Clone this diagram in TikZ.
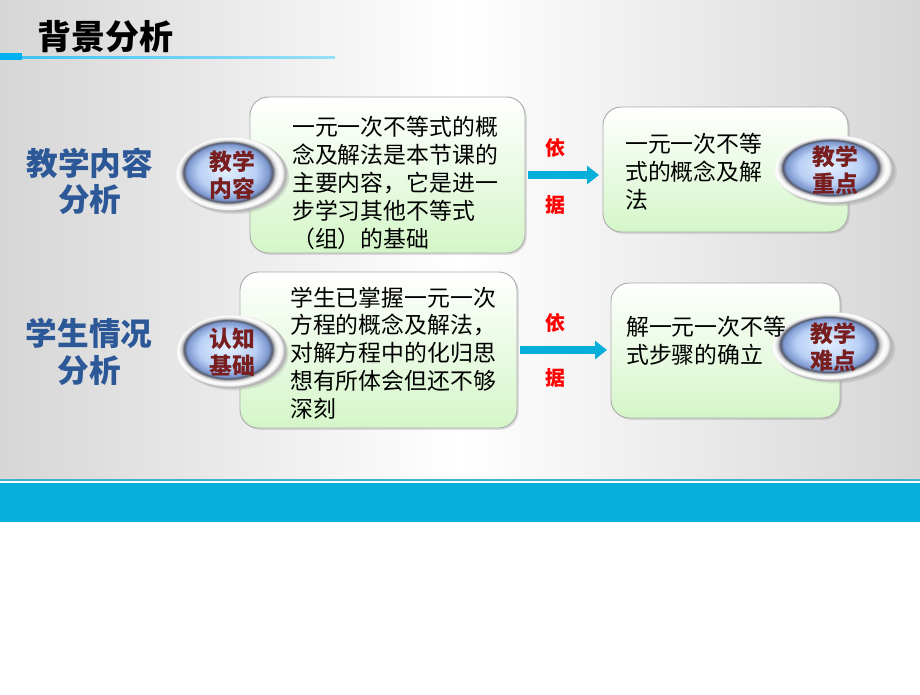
\documentclass[tikz,border=0pt]{standalone}
\usepackage{fontspec}
\setmainfont{Noto Sans CJK SC}
\usetikzlibrary{shapes.geometric,arrows.meta,shadows}

\definecolor{bggray}{RGB}{214,214,214}
\definecolor{bandblue}{RGB}{5,175,218}
\definecolor{bandline}{RGB}{60,180,205}
\definecolor{titleblue}{RGB}{0,176,240}
\definecolor{labelblue}{RGB}{44,88,152}
\definecolor{boxgreen}{RGB}{212,246,200}
\definecolor{badgetext}{RGB}{120,30,30}
\definecolor{badgehi}{RGB}{228,240,255}
\definecolor{badgemid}{RGB}{185,208,245}
\definecolor{badgelo}{RGB}{125,152,208}
\definecolor{badgerim}{RGB}{85,90,108}

% the path's bounding box is the 50bp square in the middle of the shading
\pgfdeclareradialshading{badgeshade}{\pgfpoint{-3bp}{3bp}}{%
  color(0bp)=(badgehi); color(13bp)=(badgemid); color(18.5bp)=(badgelo);
  color(20bp)=(badgerim); color(21.3bp)=(gray!35); color(22.8bp)=(white);
  color(24.4bp)=(gray!12); color(25bp)=(gray!55); color(50bp)=(gray!55)}

\tikzset{
  board/.style={draw=gray!65, line width=0.8pt, rounded corners=0.55cm,
    top color=white, bottom color=boxgreen,
    drop shadow={opacity=0.25, shadow xshift=1.5pt, shadow yshift=-1.5pt}},
  badge/.style={ellipse, shade, shading=badgeshade, inner sep=0pt,
    align=center, text=badgetext, font=\bfseries\fontsize{19.5}{23}\selectfont,
    drop shadow={opacity=0.2, shadow xshift=1.5pt, shadow yshift=-1.5pt}},
  boxtext/.style={anchor=west, inner sep=0pt, align=left,
    font=\fontsize{19.5}{23.8}\selectfont},
  sidelabel/.style={align=center, text=labelblue,
    font=\bfseries\fontsize{27}{31}\selectfont},
  basis/.style={text=red, font=\bfseries\fontsize{17}{17}\selectfont},
  flow/.style={bandblue, line width=0.24cm,
    -{Triangle[length=0.36cm,width=0.54cm]}, shorten <=2pt, shorten >=3pt}
}

\begin{document}
\begin{tikzpicture}[x=0.03cm,y=-0.03cm]
    \useasboundingbox (0,0) rectangle (920,694);

    % slide background and bottom band
    \fill[white] (0,0) rectangle (920,694);
    \shade[left color=bggray, right color=bggray, middle color=white]
        (0,0) rectangle (920,478);
    \fill[bandline] (0,478.5) rectangle (920,480.5);
    \fill[bandblue] (0,483) rectangle (920,522);

    % title
    \node[anchor=west, font=\bfseries\fontsize{29}{30}\selectfont] (title)
        at (33,37) {背景分析};
    \fill[titleblue] (0,53) rectangle (22,60);
    \shade[left color=titleblue!75, right color=titleblue!40]
        (22,56) rectangle (335,58.5);

    % left column
    \node[sidelabel] (row1) at (90,181) {教学内容\\分析};
    \node[sidelabel] (row2) at (89,352) {学生情况\\分析};

    % boxes
    \node[board, minimum width=8.25cm, minimum height=4.68cm] (box1) at (387.5,175) {};
    \node[board, minimum width=7.35cm, minimum height=3.75cm] (box2) at (725.5,169.5) {};
    \node[board, minimum width=8.31cm, minimum height=4.68cm] (box3) at (378.5,350) {};
    \node[board, minimum width=6.87cm, minimum height=4.05cm] (box4) at (725.5,350.5) {};

    % ellipses
    \node[badge, minimum width=3.33cm, minimum height=2.25cm] (content) at (232,175) {教学\\内容};
    \node[badge, minimum width=3.6cm, minimum height=2.04cm] (keypt) at (835,170) {教学\\重点};
    \node[badge, minimum width=3.3cm, minimum height=2.2cm] (basics) at (232,352) {认知\\基础};
    \node[badge, minimum width=3.63cm, minimum height=2.07cm] (hardpt) at (833,347) {教学\\难点};

    % texts
    \node[boxtext] (t1) at (292,183)
        {一元一次不等式的概\\念及解法是本节课的\\主要内容，它是进一\\步学习其他不等式\\（组）的基础};
    \node[boxtext] (t2) at (625,172) {一元一次不等\\式的概念及解\\法};
    \node[boxtext] (t3) at (290,353)
        {学生已掌握一元一次\\方程的概念及解法，\\对解方程中的化归思\\想有所体会但还不够\\深刻};
    \node[boxtext] (t4) at (626,341) {解一元一次不等\\式步骤的确立};

    % arrows
    \draw[flow] (box1.east) -- (box1.east -| box2.west);
    \draw[flow] (box3.east) -- (box3.east -| box4.west);
    \node[basis] (yi1) at (555,148) {依};
    \node[basis] (ju1) at (555,205) {据};
    \node[basis] (yi2) at (555,323) {依};
    \node[basis] (ju2) at (555,378) {据};

\end{tikzpicture}
\end{document}
